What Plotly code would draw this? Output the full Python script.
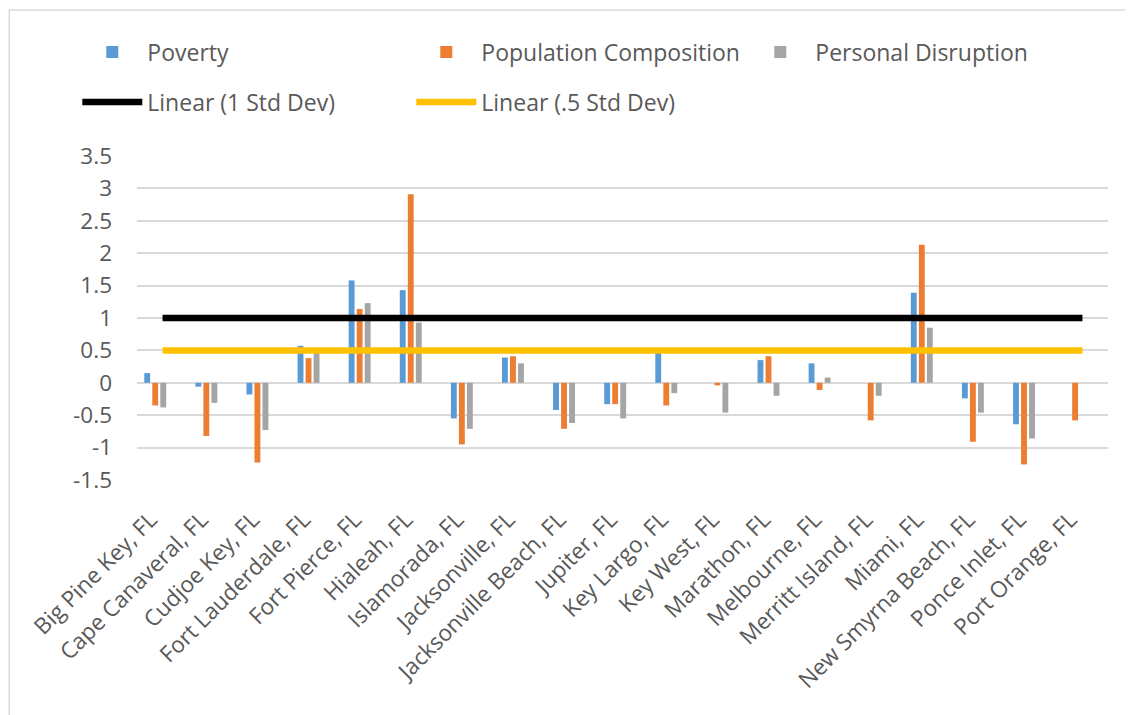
import plotly.graph_objects as go

categories = ["Big Pine Key, FL", "Cape Canaveral, FL", "Cudjoe Key, FL", "Fort Lauderdale, FL",
              "Fort Pierce, FL", "Hialeah, FL", "Islamorada, FL", "Jacksonville, FL",
              "Jacksonville Beach, FL", "Jupiter, FL", "Key Largo, FL", "Key West, FL",
              "Marathon, FL", "Melbourne, FL", "Merritt Island, FL", "Miami, FL",
              "New Smyrna Beach, FL", "Ponce Inlet, FL", "Port Orange, FL"]

poverty = [0.15, -0.06, -0.18, 0.57, 1.58, 1.43, -0.55, 0.39, -0.42, -0.33,
           0.46, 0.0, 0.35, 0.30, 0.0, 1.39, -0.24, -0.64, 0.0]
population_composition = [-0.35, -0.82, -1.23, 0.38, 1.14, 2.91, -0.95, 0.41, -0.71, -0.33,
                          -0.35, -0.04, 0.41, -0.11, -0.58, 2.13, -0.91, -1.26, -0.58]
personal_disruption = [-0.38, -0.31, -0.73, 0.48, 1.23, 0.93, -0.71, 0.30, -0.62, -0.55,
                       -0.16, -0.46, -0.20, 0.08, -0.20, 0.85, -0.46, -0.86, 0.0]
one_std_dev = [1, 1, 1, 1, 1, 1, 1, 1, 1, 1, 1, 1, 1, 1, 1, 1, 1, 1, 1]
half_std_dev = [0.5, 0.5, 0.5, 0.5, 0.5, 0.5, 0.5, 0.5, 0.5, 0.5,
                0.5, 0.5, 0.5, 0.5, 0.5, 0.5, 0.5, 0.5, 0.5]
y_ticks = [-1.5, -1, -0.5, 0, 0.5, 1, 1.5, 2, 2.5, 3, 3.5]

TEXT = "#595959"
GRID = "#D9D9D9"
FONT = "Open Sans"

bar_w = 0.115
fig = go.Figure()
for name, vals, col, off in [("Poverty", poverty, "#5B9BD5", -0.358),
                             ("Population Composition", population_composition, "#ED7D31", -0.201),
                             ("Personal Disruption", personal_disruption, "#A5A5A5", -0.044)]:
    fig.add_trace(go.Bar(x=categories, y=vals, name=name, marker=dict(color=col, line=dict(width=0)),
                         width=bar_w, offset=off, legend="legend"))

fig.add_trace(go.Scatter(x=categories, y=one_std_dev, mode="lines", name="Linear (1 Std Dev)",
                         line=dict(color="#000000", width=6.5), legend="legend2"))
fig.add_trace(go.Scatter(x=categories, y=half_std_dev, mode="lines", name="Linear (.5 Std Dev)",
                         line=dict(color="#FFC000", width=6.5), legend="legend2"))

# page body has an 8px margin; work in screen coordinates and subtract it
OFF = 8
W, H = 1133 - OFF, 715 - OFF
L, R, T, B = 136.7 - OFF, 25.3, 156 - OFF, 235
pw, ph = W - L - R, H - T - B

def px(x):
    return (x - OFF - L) / pw

def py(y):
    return (H - B - (y - OFF)) / ph

legend_common = dict(orientation="h", xanchor="left", yanchor="middle",
                     font=dict(family=FONT, size=23, color=TEXT),
                     entrywidth=259, entrywidthmode="pixels", itemwidth=60,
                     bgcolor="rgba(0,0,0,0)", tracegroupgap=0)

fig.update_layout(
    width=W, height=H,
    margin=dict(l=L, r=R, t=T, b=B, autoexpand=False),
    paper_bgcolor="white", plot_bgcolor="white",
    barmode="group",
    font=dict(family=FONT, size=22, color=TEXT),
    legend=dict(x=px(77), y=py(52), **legend_common),
    legend2=dict(x=px(77), y=py(102), **legend_common),
    xaxis=dict(type="category", tickangle=-45, showgrid=False, showline=False, ticks="",
               tickfont=dict(family=FONT, size=22.5, color=TEXT),
               ticklabelstandoff=21, ticklabelshift=-12,
               range=[-0.5, len(categories) - 0.5]),
    yaxis=dict(range=[-1.5, 3.5], tickvals=y_ticks, ticktext=[f"{v:g}" for v in y_ticks],
               showgrid=True, gridcolor=GRID, gridwidth=1.8,
               zeroline=True, zerolinecolor=GRID, zerolinewidth=1.8,
               showline=False, ticks="", ticklabelstandoff=24,
               tickfont=dict(family=FONT, size=22.5, color=TEXT)),
    shapes=[dict(type="rect", xref="paper", yref="paper",
                 x0=px(9), x1=px(1145), y0=py(725), y1=py(10),
                 line=dict(color=GRID, width=1.5), fillcolor="rgba(0,0,0,0)", layer="below")],
)

fig.write_html("out.html")
